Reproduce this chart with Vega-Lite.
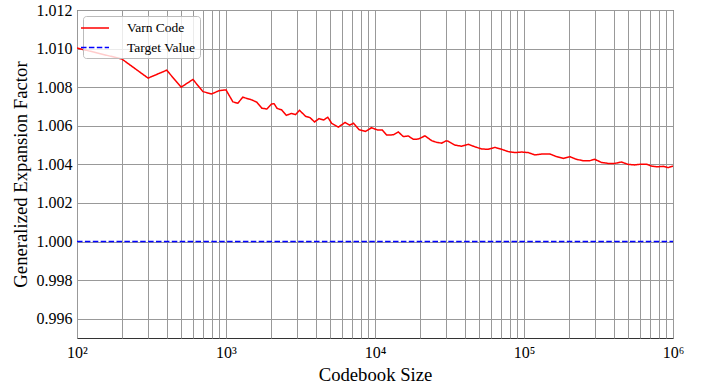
{
  "$schema": "https://vega.github.io/schema/vega-lite/v6.json",
  "width": 596,
  "height": 328,
  "autosize": {"type": "none"},
  "padding": {"left": 77, "top": 10, "right": 37, "bottom": 49},
  "background": "white",
  "config": {
    "font": "Liberation Serif, serif",
    "view": {"stroke": "#333333", "strokeWidth": 1}
  },
  "data": {
    "values": [
      {"n": 100, "v": 1.01003, "s": "Varn Code"},
      {"n": 200, "v": 1.00946, "s": "Varn Code"},
      {"n": 300, "v": 1.00847, "s": "Varn Code"},
      {"n": 400, "v": 1.00888, "s": "Varn Code"},
      {"n": 500, "v": 1.0080, "s": "Varn Code"},
      {"n": 600, "v": 1.0084, "s": "Varn Code"},
      {"n": 700, "v": 1.00777, "s": "Varn Code"},
      {"n": 800, "v": 1.00765, "s": "Varn Code"},
      {"n": 900, "v": 1.00782, "s": "Varn Code"},
      {"n": 1000, "v": 1.00786, "s": "Varn Code"},
      {"n": 1112, "v": 1.00724, "s": "Varn Code"},
      {"n": 1200, "v": 1.00717, "s": "Varn Code"},
      {"n": 1297, "v": 1.00748, "s": "Varn Code"},
      {"n": 1490, "v": 1.00734, "s": "Varn Code"},
      {"n": 1610, "v": 1.00722, "s": "Varn Code"},
      {"n": 1740, "v": 1.00691, "s": "Varn Code"},
      {"n": 1879, "v": 1.00687, "s": "Varn Code"},
      {"n": 2023, "v": 1.00713, "s": "Varn Code"},
      {"n": 2103, "v": 1.00714, "s": "Varn Code"},
      {"n": 2203, "v": 1.0069, "s": "Varn Code"},
      {"n": 2367, "v": 1.00682, "s": "Varn Code"},
      {"n": 2542, "v": 1.00654, "s": "Varn Code"},
      {"n": 2746, "v": 1.00664, "s": "Varn Code"},
      {"n": 2930, "v": 1.00658, "s": "Varn Code"},
      {"n": 3117, "v": 1.0068, "s": "Varn Code"},
      {"n": 3421, "v": 1.00649, "s": "Varn Code"},
      {"n": 3665, "v": 1.00642, "s": "Varn Code"},
      {"n": 3928, "v": 1.0062, "s": "Varn Code"},
      {"n": 4214, "v": 1.00637, "s": "Varn Code"},
      {"n": 4518, "v": 1.0063, "s": "Varn Code"},
      {"n": 4822, "v": 1.00644, "s": "Varn Code"},
      {"n": 5128, "v": 1.00612, "s": "Varn Code"},
      {"n": 5676, "v": 1.00593, "s": "Varn Code"},
      {"n": 6295, "v": 1.00617, "s": "Varn Code"},
      {"n": 6747, "v": 1.00603, "s": "Varn Code"},
      {"n": 7178, "v": 1.00613, "s": "Varn Code"},
      {"n": 7815, "v": 1.0058, "s": "Varn Code"},
      {"n": 8634, "v": 1.00571, "s": "Varn Code"},
      {"n": 9481, "v": 1.0059, "s": "Varn Code"},
      {"n": 10399, "v": 1.00578, "s": "Varn Code"},
      {"n": 11200, "v": 1.00578, "s": "Varn Code"},
      {"n": 11975, "v": 1.00552, "s": "Varn Code"},
      {"n": 13270, "v": 1.00553, "s": "Varn Code"},
      {"n": 14330, "v": 1.00568, "s": "Varn Code"},
      {"n": 15490, "v": 1.00544, "s": "Varn Code"},
      {"n": 16720, "v": 1.00547, "s": "Varn Code"},
      {"n": 18060, "v": 1.0053, "s": "Varn Code"},
      {"n": 19510, "v": 1.00531, "s": "Varn Code"},
      {"n": 20800, "v": 1.00541, "s": "Varn Code"},
      {"n": 21630, "v": 1.00548, "s": "Varn Code"},
      {"n": 23980, "v": 1.00523, "s": "Varn Code"},
      {"n": 25920, "v": 1.00514, "s": "Varn Code"},
      {"n": 28010, "v": 1.0051, "s": "Varn Code"},
      {"n": 30000, "v": 1.00522, "s": "Varn Code"},
      {"n": 31000, "v": 1.0052, "s": "Varn Code"},
      {"n": 34360, "v": 1.005, "s": "Varn Code"},
      {"n": 38090, "v": 1.00494, "s": "Varn Code"},
      {"n": 42230, "v": 1.00504, "s": "Varn Code"},
      {"n": 46800, "v": 1.00491, "s": "Varn Code"},
      {"n": 51880, "v": 1.0048, "s": "Varn Code"},
      {"n": 57510, "v": 1.00478, "s": "Varn Code"},
      {"n": 63780, "v": 1.00488, "s": "Varn Code"},
      {"n": 70680, "v": 1.00478, "s": "Varn Code"},
      {"n": 78340, "v": 1.00466, "s": "Varn Code"},
      {"n": 86860, "v": 1.00461, "s": "Varn Code"},
      {"n": 96300, "v": 1.00464, "s": "Varn Code"},
      {"n": 106700, "v": 1.00461, "s": "Varn Code"},
      {"n": 118300, "v": 1.00449, "s": "Varn Code"},
      {"n": 134400, "v": 1.00454, "s": "Varn Code"},
      {"n": 149000, "v": 1.00454, "s": "Varn Code"},
      {"n": 165200, "v": 1.0044, "s": "Varn Code"},
      {"n": 183000, "v": 1.00431, "s": "Varn Code"},
      {"n": 202900, "v": 1.0044, "s": "Varn Code"},
      {"n": 224900, "v": 1.00426, "s": "Varn Code"},
      {"n": 249300, "v": 1.00419, "s": "Varn Code"},
      {"n": 276300, "v": 1.00419, "s": "Varn Code"},
      {"n": 298400, "v": 1.00426, "s": "Varn Code"},
      {"n": 331000, "v": 1.0041, "s": "Varn Code"},
      {"n": 366800, "v": 1.00405, "s": "Varn Code"},
      {"n": 406600, "v": 1.00405, "s": "Varn Code"},
      {"n": 450800, "v": 1.00412, "s": "Varn Code"},
      {"n": 499400, "v": 1.004, "s": "Varn Code"},
      {"n": 553600, "v": 1.00397, "s": "Varn Code"},
      {"n": 598000, "v": 1.004, "s": "Varn Code"},
      {"n": 663000, "v": 1.00401, "s": "Varn Code"},
      {"n": 716200, "v": 1.00391, "s": "Varn Code"},
      {"n": 793100, "v": 1.00387, "s": "Varn Code"},
      {"n": 857000, "v": 1.0039, "s": "Varn Code"},
      {"n": 926000, "v": 1.00383, "s": "Varn Code"},
      {"n": 1000000, "v": 1.00391, "s": "Varn Code"},
      {"n": 100, "v": 1.0, "s": "Target Value"},
      {"n": 1000000, "v": 1.0, "s": "Target Value"}
    ]
  },
  "mark": {"type": "line", "strokeWidth": 1.5, "clip": true},
  "encoding": {
    "x": {
      "field": "n",
      "type": "quantitative",
      "scale": {"type": "log", "domain": [100, 1000000], "nice": false},
      "axis": {
        "title": "Codebook Size",
        "titleFont": "Liberation Serif, serif",
        "titleFontSize": 18.7,
        "titleFontWeight": "normal",
        "titleColor": "#000000",
        "titlePadding": 5,
        "values": [100, 200, 300, 400, 500, 600, 700, 800, 900,
                   1000, 2000, 3000, 4000, 5000, 6000, 7000, 8000, 9000,
                   10000, 20000, 30000, 40000, 50000, 60000, 70000, 80000, 90000,
                   100000, 200000, 300000, 400000, 500000, 600000, 700000, 800000, 900000,
                   1000000],
        "labelExpr": "datum.value == 100 ? '10²' : datum.value == 1000 ? '10³' : datum.value == 10000 ? '10⁴' : datum.value == 100000 ? '10⁵' : datum.value == 1000000 ? '10⁶' : ''",
        "labelFont": "Liberation Serif, serif",
        "labelFontSize": 16,
        "labelColor": "#000000",
        "labelPadding": 6,
        "labelOverlap": false,
        "labelFlush": false,
        "ticks": false,
        "domain": false,
        "grid": true,
        "gridColor": "#999999",
        "gridWidth": 1
      }
    },
    "y": {
      "field": "v",
      "type": "quantitative",
      "scale": {"domain": [0.995, 1.012], "nice": false, "zero": false},
      "axis": {
        "title": "Generalized Expansion Factor",
        "titleFont": "Liberation Serif, serif",
        "titleFontSize": 18.7,
        "titleFontWeight": "normal",
        "titleColor": "#000000",
        "titlePadding": 6,
        "values": [0.996, 0.998, 1.0, 1.002, 1.004, 1.006, 1.008, 1.01, 1.012],
        "format": ".3f",
        "labelFont": "Liberation Serif, serif",
        "labelFontSize": 16,
        "labelColor": "#000000",
        "labelPadding": 5,
        "ticks": false,
        "domain": false,
        "grid": true,
        "gridColor": "#999999",
        "gridWidth": 1
      }
    },
    "color": {
      "field": "s",
      "type": "nominal",
      "scale": {"domain": ["Varn Code", "Target Value"], "range": ["#ff0000", "#0000ff"]},
      "legend": {
        "title": null,
        "orient": "none",
        "legendX": 6,
        "legendY": 6,
        "symbolType": "M-2,0H2",
        "symbolSize": 196,
        "symbolStrokeWidth": 1.5,
        "labelFont": "Liberation Serif, serif",
        "labelFontSize": 13.5,
        "labelColor": "#000000",
        "labelOffset": 24,
        "rowPadding": 4.5,
        "padding": 4,
        "offset": 0,
        "strokeColor": "#bbbbbb",
        "fillColor": "rgba(255,255,255,0.8)",
        "cornerRadius": 3
      }
    },
    "strokeDash": {
      "field": "s",
      "type": "nominal",
      "scale": {"domain": ["Varn Code", "Target Value"], "range": [[1, 0], [5.5, 2.4]]},
      "legend": {"title": null}
    }
  }
}
